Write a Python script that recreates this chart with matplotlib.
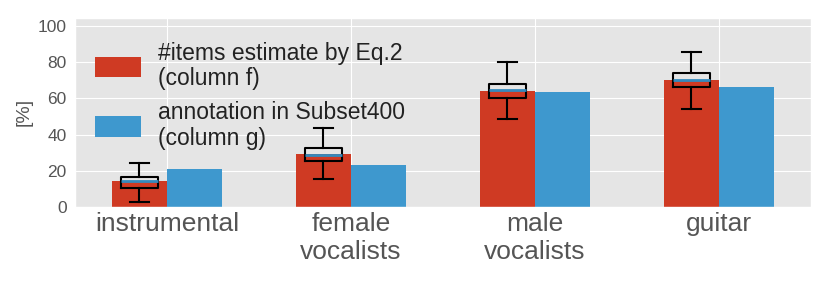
import matplotlib
matplotlib.use("Agg")
import matplotlib.pyplot as plt
import numpy as np

plt.style.use("ggplot")
plt.rcParams["font.family"] = ["Liberation Sans", "DejaVu Sans"]

categories = ["instrumental", "female\nvocalists", "male\nvocalists", "guitar"]
estimate_eq2 = [14.2, 29.0, 64.3, 70.0]
annotation_subset400 = [20.7, 23.1, 63.8, 66.2]

box_whislo = [2.8, 15.5, 48.4, 54.3]
box_q1 = [10.5, 25.2, 60.1, 66.2]
box_med = [14.2, 28.8, 64.7, 70.2]
box_q3 = [16.5, 32.7, 68.2, 74.3]
box_whishi = [24.0, 43.8, 80.0, 85.9]

label_f = "#items estimate by Eq.2\n(column f)"
label_g = "annotation in Subset400\n(column g)"

red = "#CF3A23"
blue = "#3E98CE"

fig = plt.figure(figsize=(8.3, 2.85), dpi=100)
ax = fig.add_axes([0.0904, 0.275, 0.977 - 0.0904, 0.936 - 0.275])

x = np.arange(len(categories))
w = 0.3
ax.bar(x - w / 2, estimate_eq2, w, color=red, label=label_f, zorder=2)
ax.bar(x + w / 2, annotation_subset400, w, color=blue, label=label_g, zorder=2)

stats = []
for i in range(len(categories)):
    stats.append(dict(whislo=box_whislo[i], q1=box_q1[i], med=box_med[i],
                      q3=box_q3[i], whishi=box_whishi[i], fliers=[]))
ax.bxp(stats, positions=x - w / 2, widths=0.2, showfliers=False,
       manage_ticks=False,
       boxprops=dict(color="black", linewidth=1.5),
       whiskerprops=dict(color="black", linewidth=1.5),
       capprops=dict(color="black", linewidth=1.5),
       medianprops=dict(color="#348ABD", linewidth=2),
       zorder=3)

ax.set_xlim(-0.5, 3.5)
ax.set_ylim(0, 104.5)
ax.set_yticks([0, 20, 40, 60, 80, 100])
ax.set_xticks(x)
ax.set_xticklabels(categories, fontsize=19, color="#555555", linespacing=1.22)
ax.tick_params(axis="y", labelsize=12.5, colors="#555555", length=0, pad=6)
ax.tick_params(axis="x", length=0, pad=4)
ax.set_ylabel("[%]", fontsize=14, color="#555555", labelpad=4)

leg = ax.legend(loc="upper left", fontsize=16.5, frameon=False,
                handlelength=2.0, handleheight=1.0, labelspacing=0.5,
                handletextpad=0.75, borderaxespad=0.3,
                bbox_to_anchor=(0.005, 0.96))
for t in leg.get_texts():
    t.set_color("#222222")
    t.set_linespacing(1.12)

fig.savefig("out.png", dpi=100)
